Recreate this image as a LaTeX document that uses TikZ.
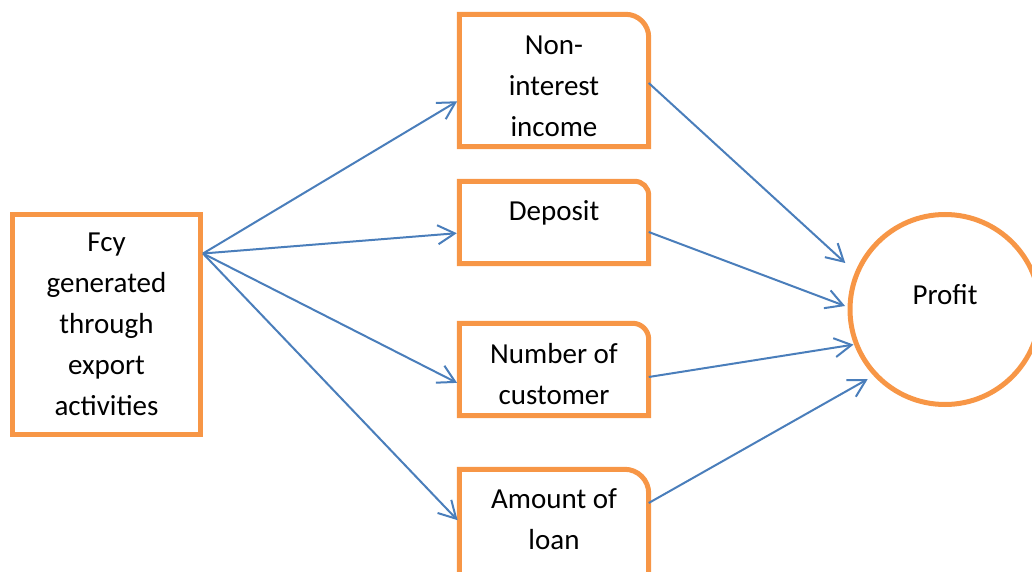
\documentclass[tikz,border=0pt]{standalone}
\usepackage{fontspec}
\setmainfont{Carlito}
\usetikzlibrary{positioning,calc,arrows.meta}

\definecolor{naranja}{HTML}{F79646}
\definecolor{azul}{HTML}{4A7EBB}

\tikzset{
	casilla/.style={draw=none, inner sep=0pt, minimum width=189pt},
	marco/.style={draw=naranja, line width=5pt},
	texto/.style={inner sep=0pt, align=center, font=\fontsize{29}{41}\selectfont, execute at begin node=\strut},
	flecha/.style={draw=azul, line width=2pt, -{Straight Barb[length=17pt,width=19pt]}}
}

\begin{document}
\begin{tikzpicture}[x=1pt, y=1pt]
\useasboundingbox (0,0) rectangle (1032,571);

% Origen
\node[casilla, marco, minimum width=188pt, minimum height=220pt] (fcy) at (106.5,246.5) {};
\node[texto, below=21pt of fcy.north] (fcyT) {Fcy\\generated\\through\\export\\activities};
\coordinate (src) at ([yshift=-41.5pt]fcy.north east);

% Cajas intermedias
\node[casilla, minimum height=132pt] (non) at (554,490.5) {};
\node[casilla, minimum height=82pt] (dep) at (554,348.5) {};
\node[casilla, minimum height=92pt] (num) at (554,201.5) {};
\node[casilla, minimum height=132pt] (amt) at (554,35.5) {};

	\foreach \b/\r in {non/23, dep/14, num/16, amt/24}
		\draw[marco] (\b.south west) -- (\b.north west) -- ([xshift=-\r pt]\b.north east)
			arc[start angle=90, end angle=0, radius=\r pt] -- (\b.south east) -- cycle;

\node[texto, below=21pt of non.north] (nonT) {Non-\\interest\\income};
\node[texto, below=10pt of dep.north] (depT) {Deposit};
\node[texto, below=20pt of num.north] (numT) {Number of\\customer};
\node[texto, below=19pt of amt.north] (amtT) {Amount of\\loan};

% Destino
\node[circle, marco, inner sep=0pt, minimum size=190pt] (profit) at (945,261.5) {};
\node[texto, anchor=base] (profitT) at ([yshift=5.5pt]profit.center) {Profit};

% Flechas
	\foreach \b/\s in {non/-19.5, dep/-10.5, num/-14.5, amt/13.5}
		\draw[flecha, shorten >=2.5pt] (src) -- ([yshift=\s pt]\b.west);

	\foreach \b/\s/\a/\d in {non/-2.5/155/110, dep/-9.5/178/100, num/-7.5/201/98, amt/32.5/222/104}
		\draw[flecha] ([yshift=\s pt]\b.east) -- ($(profit.center)+(\a:\d pt)$);
\end{tikzpicture}
\end{document}
